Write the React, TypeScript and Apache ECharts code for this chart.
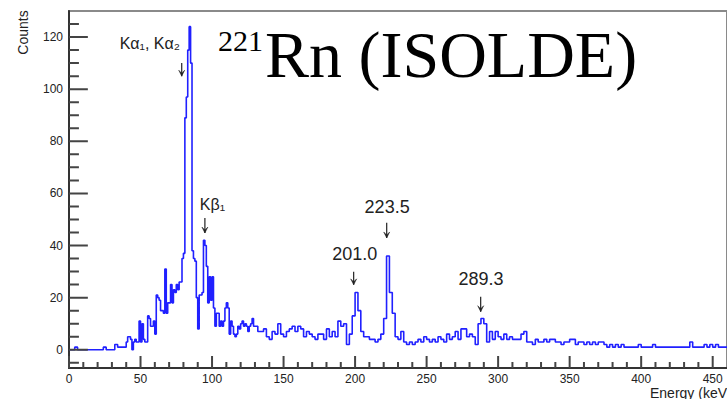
import React, { useEffect, useRef } from "react";
import * as echarts from "echarts";

// Histogram bins: counts per bin (bin left edges start at *Start, width *Width keV)
const lowStart = 0;
const lowWidth = 2;
const countsLow = [0, 0, 1, 0, 0, 0, 0, 0, 0, 0, 0, 0, 1, 0, 0, 0, 2, 1, 1, 1];

const peakStart = 40;
const peakWidth = 1;
const countsPeak = [
  3, 5, 5, 4, 0, 3, 4, 3, 3, 11,
  3, 10, 4, 3, 3, 13, 12, 9, 9, 11,
  6, 21, 20, 19, 15, 15, 14, 31, 14, 18,
  18, 25, 18, 23, 22, 25, 23, 26, 26, 35,
  37, 89, 97, 115, 124, 110, 38, 35, 34, 20,
  8, 21, 21, 22, 42, 40, 32, 18, 28, 19,
  28, 16, 9, 14, 14, 9, 11, 9, 11, 16,
  18, 16, 6, 11, 9, 6, 5, 6, 9, 8,
  10, 11, 9, 10, 9, 7, 9, 10, 12, 9,
];

const highStart = 130;
const highWidth = 2;
const countsHigh = [
  9, 7, 7, 8, 5,
  4, 7, 6, 10, 6,
  5, 7, 8, 9, 7,
  9, 8, 5, 7, 6,
  5, 4, 6, 6, 4,
  8, 5, 7, 5, 11,
  9, 10, 2, 6, 13,
  22, 15, 7, 5, 5,
  4, 4, 3, 4, 6,
  12, 36, 22, 14, 5,
  4, 7, 3, 2, 3,
  2, 3, 4, 3, 5,
  4, 3, 4, 3, 5,
  4, 3, 6, 4, 5,
  7, 4, 8, 8, 5,
  6, 5, 2, 10, 12,
  10, 3, 7, 4, 7,
  5, 4, 6, 4, 5,
  4, 4, 4, 6, 7,
  3, 3, 2, 4, 3,
  3, 4, 3, 4, 4,
  3, 3, 2, 3, 3,
  4, 4, 2, 3, 3,
  2, 3, 2, 3, 2,
  3, 3, 2, 1, 2,
  1, 2, 1, 2, 1,
  1, 1, 1, 1, 2,
  1, 1, 1, 1, 2,
  1, 1, 1, 1, 1,
  1, 1, 1, 1, 1,
  1, 1, 3, 1, 1,
  1, 1, 2, 1, 2,
  1, 2, 1, 1, 1,
];
const energyEnd = 460;

const xMajorTicks = [0, 50, 100, 150, 200, 250, 300, 350, 400, 450];
const xMinorTicks = [
  10, 20, 30, 40, 60, 70, 80, 90, 110, 120, 130, 140, 160, 170, 180, 190,
  210, 220, 230, 240, 260, 270, 280, 290, 310, 320, 330, 340, 360, 370, 380, 390,
  410, 420, 430, 440,
];
const yMajorTicks = [0, 20, 40, 60, 80, 100, 120];
const yMinorTicks = [-5, 5, 10, 15, 25, 30, 35, 45, 50, 55, 65, 70, 75, 85, 90, 95, 105, 110, 115, 125];

const peakLabels = ["Kα₁, Kα₂", "Kβ₁", "201.0", "223.5", "289.3"];
const labelEnergy = [56.5, 100.3, 199.8, 222.4, 288.0];
const labelCounts = [117.6, 55.9, 36.8, 54.8, 27.2];
const arrowEnergy = [78.8, 95, 199, 222.1, 287.8];
const arrowTopCounts = [110, 50.6, 29.9, 48.7, 20.3];
const arrowTipCounts = [105, 44.8, 24.9, 42.9, 14.6];

export default function App() {
  const ref = useRef<HTMLDivElement>(null);
  useEffect(() => {
    const el = ref.current!;
    const chart = echarts.init(el, undefined, { renderer: "svg" });
    const data: [number, number][] = [];
    countsLow.forEach((c, i) => data.push([lowStart + i * lowWidth, c]));
    countsPeak.forEach((c, i) => data.push([peakStart + i * peakWidth, c]));
    countsHigh.forEach((c, i) => data.push([highStart + i * highWidth, c]));
    data.push([energyEnd, countsHigh[countsHigh.length - 1]]);

    const font = "'Liberation Sans', Arial, Helvetica, sans-serif";
    const serif = "'Liberation Serif', 'Times New Roman', serif";
    const xMin = 0, xMax = 460, yMin = -7, yMax = 130;

    // Grid geometry (pixels) used to express tick lengths in data units
    const gridLeft = 69, gridRight = -5.3, gridTop = 11, gridBottom = 31;
    const plotW = 727 - gridLeft - gridRight;
    const plotH = 399 - gridTop - gridBottom;
    const keVPerPx = (xMax - xMin) / plotW;
    const countsPerPx = (yMax - yMin) / plotH;

    // Tick segments as a line series broken by null gaps
    const tickData: any[] = [];
    const addY = (vals: number[], lenPx: number) =>
      vals.forEach((v) => {
        tickData.push([xMin, v], [xMin + lenPx * keVPerPx, v], "-");
      });
    const addX = (vals: number[], lenPx: number) =>
      vals.forEach((v) => {
        tickData.push([v, yMin], [v, yMin + lenPx * countsPerPx], "-");
      });
    addY(yMajorTicks, 19);
    addY(yMinorTicks, 10);
    addX(xMajorTicks, 12);
    addX(xMinorTicks, 6);

    chart.setOption({
      animation: false,
      grid: {
        left: gridLeft, right: gridRight, top: gridTop, bottom: gridBottom,
        show: true, borderColor: "#8a8a8a", borderWidth: 2,
      },
      xAxis: {
        type: "value", min: xMin, max: xMax, position: "bottom",
        axisLine: { onZero: false, lineStyle: { color: "#333", width: 2 } },
        axisTick: { show: false },
        axisLabel: { customValues: xMajorTicks, margin: 5, fontSize: 12, color: "#222", fontFamily: font },
        splitLine: { show: false },
      },
      yAxis: {
        type: "value", min: yMin, max: yMax, position: "left",
        axisLine: { show: true, onZero: false, lineStyle: { color: "#333", width: 2 } },
        axisTick: { show: false },
        axisLabel: { customValues: yMajorTicks, margin: 6, fontSize: 12, color: "#222", fontFamily: font },
        splitLine: { show: false },
      },
      series: [
        {
          type: "line", data, step: "end",
          showSymbol: false, symbol: "none", silent: true,
          lineStyle: { color: "#2020ff", width: 1.6 },
        },
        {
          type: "line", data: tickData, connectNulls: false, clip: false,
          showSymbol: false, symbol: "none", silent: true, z: 4,
          lineStyle: { color: "#444", width: 2 },
        },
      ],
    });

    const toPx = (e: number, c: number) =>
      chart.convertToPixel({ xAxisIndex: 0, yAxisIndex: 0 }, [e, c]) as number[];

    const graphics: any[] = [
      {
        type: "text", x: 218, y: 40,
        style: { text: "221", fontSize: 30, fontFamily: serif, fill: "#000", align: "left", verticalAlign: "middle" },
      },
      {
        type: "text", x: 265, y: 54.7,
        style: { text: "Rn (ISOLDE)", fontSize: 66, fontFamily: serif, fill: "#000", align: "left", verticalAlign: "middle" },
      },
      {
        type: "text", x: 23, y: 32.5, rotation: Math.PI / 2,
        style: { text: "Counts", fontSize: 14, fontFamily: font, fill: "#222", align: "center", verticalAlign: "middle" },
      },
      {
        type: "text", x: 650, y: 393,
        style: { text: "Energy (keV)", fontSize: 14, fontFamily: font, fill: "#222", align: "left", verticalAlign: "middle" },
      },
    ];

    peakLabels.forEach((label, i) => {
      const [lx, ly] = toPx(labelEnergy[i], labelCounts[i]);
      graphics.push({
        type: "text", x: lx, y: ly,
        style: { text: label, fontSize: i < 2 ? 16 : 18, fontFamily: font, fill: "#222", align: "center", verticalAlign: "middle" },
      });
      const [ax, ay1] = toPx(arrowEnergy[i], arrowTopCounts[i]);
      const [, ay2] = toPx(arrowEnergy[i], arrowTipCounts[i]);
      graphics.push({
        type: "line",
        shape: { x1: ax, y1: ay1, x2: ax, y2: ay2 },
        style: { stroke: "#222", lineWidth: 1.2 },
      });
      graphics.push({
        type: "polygon",
        shape: { points: [[ax - 3, ay2 - 6], [ax, ay2], [ax + 3, ay2 - 6], [ax, ay2 - 3]] },
        style: { fill: "#222", stroke: "#222", lineWidth: 0.5 },
      });
    });

    chart.setOption({ graphic: graphics });

    return () => chart.dispose();
  }, []);

  return (
    <div
      ref={ref}
      style={{ position: "fixed", left: 0, top: 0, width: 727, height: 399, background: "#fff" }}
    />
  );
}
